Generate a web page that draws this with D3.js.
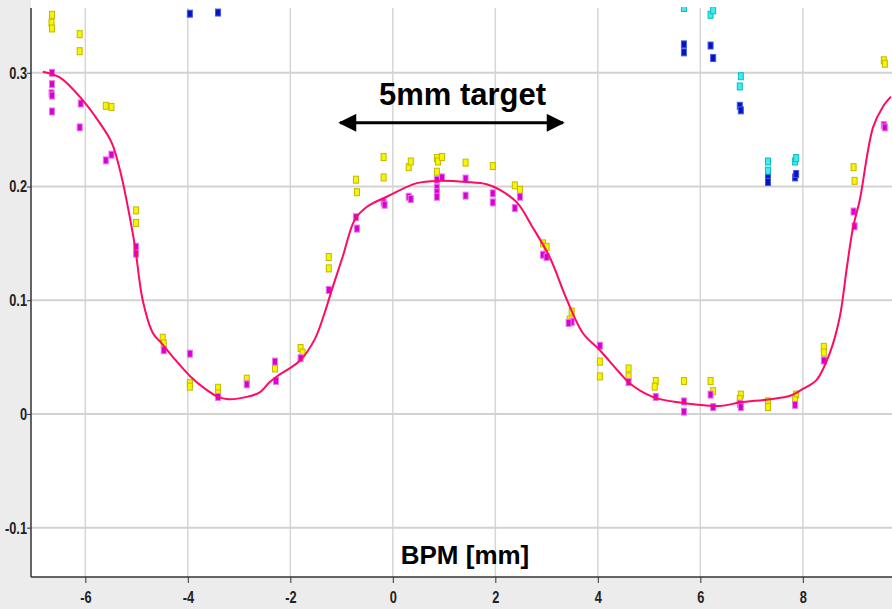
<!DOCTYPE html>
<html>
<head>
<meta charset="utf-8">
<script src="https://cdn.jsdelivr.net/npm/d3@7"></script>
<style>
  html, body { margin: 0; padding: 0; background: #ececec; }
  svg { display: block; }
</style>
</head>
<body>
<svg id="chart" width="892" height="609"></svg>
<script>
// data: [BPM mm, value]
const yellowPts = [
  [-6.65, 0.351], [-6.66, 0.344], [-6.65, 0.339],
  [-6.11, 0.334], [-6.11, 0.319],
  [-5.60, 0.271], [-5.49, 0.270],
  [-5.01, 0.179], [-5.01, 0.168],
  [-4.49, 0.067], [-4.47, 0.062],
  [-3.96, 0.027], [-3.96, 0.024],
  [-3.41, 0.023], [-3.41, 0.018],
  [-2.85, 0.031],
  [-2.30, 0.040],
  [-1.80, 0.058], [-1.76, 0.054],
  [-1.25, 0.138], [-1.25, 0.128],
  [-0.72, 0.206], [-0.70, 0.195],
  [-0.18, 0.226], [-0.18, 0.208],
  [0.31, 0.217], [0.35, 0.222],
  [0.86, 0.225], [0.88, 0.222], [0.96, 0.226], [0.86, 0.213],
  [1.42, 0.221],
  [1.95, 0.218],
  [2.38, 0.201], [2.48, 0.197],
  [2.93, 0.150], [3.00, 0.147],
  [3.49, 0.090], [3.45, 0.083],
  [4.04, 0.046], [4.04, 0.033],
  [4.60, 0.040], [4.60, 0.033],
  [5.13, 0.029], [5.11, 0.024],
  [5.68, 0.029],
  [6.20, 0.029], [6.25, 0.020],
  [6.79, 0.017], [6.77, 0.013],
  [7.32, 0.011], [7.32, 0.006],
  [7.87, 0.017], [7.85, 0.012],
  [8.41, 0.059], [8.41, 0.054],
  [8.99, 0.217], [9.01, 0.205],
  [9.58, 0.311], [9.60, 0.308]
];

const magentaPts = [
  [-6.65, 0.300], [-6.65, 0.290], [-6.66, 0.282], [-6.65, 0.280], [-6.65, 0.266],
  [-6.09, 0.273], [-6.11, 0.252],
  [-5.60, 0.223], [-5.49, 0.228],
  [-5.01, 0.147], [-5.01, 0.141],
  [-4.47, 0.056],
  [-3.96, 0.053],
  [-3.41, 0.015],
  [-2.85, 0.026],
  [-2.30, 0.046], [-2.28, 0.029],
  [-1.80, 0.049],
  [-1.25, 0.109],
  [-0.72, 0.173], [-0.70, 0.163],
  [-0.18, 0.186], [-0.16, 0.184],
  [0.31, 0.191], [0.35, 0.189],
  [0.86, 0.206], [0.96, 0.208], [0.86, 0.199], [0.86, 0.195], [0.86, 0.191],
  [1.42, 0.207], [1.42, 0.192],
  [1.95, 0.194], [1.95, 0.186],
  [2.38, 0.181], [2.48, 0.191],
  [2.93, 0.140], [3.00, 0.138],
  [3.49, 0.081], [3.43, 0.080],
  [4.04, 0.060],
  [4.60, 0.028],
  [5.13, 0.015],
  [5.68, 0.011], [5.68, 0.002],
  [6.20, 0.017], [6.25, 0.006],
  [6.77, 0.009], [6.79, 0.006],
  [7.85, 0.008],
  [8.41, 0.047],
  [8.99, 0.178], [9.01, 0.165],
  [9.58, 0.254], [9.60, 0.252]
];

const bluePts = [
  [-3.96, 0.352], [-3.41, 0.353],
  [5.68, 0.325], [5.68, 0.318],
  [6.20, 0.324], [6.25, 0.313],
  [6.77, 0.271], [6.79, 0.267],
  [7.32, 0.208], [7.32, 0.204],
  [7.85, 0.208], [7.87, 0.211]
];

const cyanPts = [
  [5.68, 0.357],
  [6.20, 0.351], [6.25, 0.355],
  [6.79, 0.297], [6.77, 0.288],
  [7.32, 0.222], [7.32, 0.214],
  [7.85, 0.222], [7.87, 0.225]
];

// smooth fit curve
const fitCurve = [
  [-6.83, 0.301], [-6.50, 0.296], [-6.11, 0.279], [-5.72, 0.256], [-5.48, 0.238],
  [-5.29, 0.208], [-5.17, 0.182], [-5.03, 0.147], [-4.88, 0.100], [-4.68, 0.071],
  [-4.51, 0.062], [-4.29, 0.050], [-3.95, 0.033], [-3.66, 0.022], [-3.41, 0.015],
  [-3.22, 0.013], [-2.85, 0.015], [-2.60, 0.019], [-2.40, 0.028], [-2.26, 0.033],
  [-1.81, 0.047], [-1.52, 0.066], [-1.33, 0.089], [-1.17, 0.112], [-0.98, 0.138],
  [-0.74, 0.171], [-0.51, 0.182], [-0.12, 0.191], [0.47, 0.203], [0.92, 0.205],
  [1.44, 0.204], [1.83, 0.202], [2.09, 0.197], [2.42, 0.186], [2.73, 0.164],
  [3.06, 0.138], [3.40, 0.100], [3.71, 0.071], [4.04, 0.056], [4.43, 0.036],
  [4.62, 0.027], [5.07, 0.015], [5.60, 0.010], [6.38, 0.007], [6.77, 0.010],
  [7.36, 0.013], [7.75, 0.016], [8.00, 0.022], [8.27, 0.030], [8.53, 0.054],
  [8.72, 0.085], [8.86, 0.129], [8.98, 0.164], [9.11, 0.188], [9.37, 0.252],
  [9.56, 0.270], [9.72, 0.279]
];

const xTicks = [-6, -4, -2, 0, 2, 4, 6, 8];
const yTicks = [-0.1, 0, 0.1, 0.2, 0.3];

const svg = d3.select("#chart");
const plotLeft = 31, plotRight = 892, plotTop = 8, plotBottom = 577;

const x = d3.scaleLinear().domain([-7.06, 9.74]).range([plotLeft, plotRight]);
const y = d3.scaleLinear().domain([-0.1434, 0.357]).range([plotBottom, plotTop]);

// background
svg.append("rect").attr("x", 0).attr("y", 0).attr("width", 892).attr("height", 609).attr("fill", "#ececec");
svg.append("rect").attr("x", plotLeft).attr("y", 0)
  .attr("width", plotRight - plotLeft).attr("height", plotBottom).attr("fill", "#fff");

const defs = svg.append("defs");
defs.append("clipPath").attr("id", "plotclip")
  .append("rect").attr("x", plotLeft).attr("y", plotTop - 1)
  .attr("width", plotRight - plotLeft).attr("height", plotBottom - plotTop + 1);

// grid
svg.append("g").selectAll("line").data(xTicks).join("line")
  .attr("x1", d => x(d)).attr("x2", d => x(d))
  .attr("y1", plotTop).attr("y2", plotBottom)
  .attr("stroke", "#d6d6d6").attr("stroke-width", 1.5);
svg.append("g").selectAll("line").data(yTicks).join("line")
  .attr("x1", plotLeft).attr("x2", plotRight)
  .attr("y1", d => y(d)).attr("y2", d => y(d))
  .attr("stroke", "#d2d2d2").attr("stroke-width", 2);

// axes -- plain hyphen minus, narrow glyphs like the original
const fmtTick = d => (d === 0 ? "0" : String(+d.toFixed(1))).replace("\u2212", "-");
const squeeze = 0.8;
const xAxis = svg.append("g")
  .attr("transform", "translate(0," + plotBottom + ")")
  .call(d3.axisBottom(x).tickValues(xTicks).tickSize(6).tickPadding(7).tickFormat(fmtTick));
const yAxis = svg.append("g")
  .attr("transform", "translate(" + plotLeft + ",0)")
  .call(d3.axisLeft(y).tickValues(yTicks).tickSize(4).tickPadding(3).tickFormat(fmtTick));
[xAxis, yAxis].forEach(a => {
  a.select(".domain").attr("stroke", "#333").attr("stroke-width", 1.5);
  a.selectAll(".tick line").attr("stroke", "#333");
  a.selectAll(".tick text")
    .style("font-family", "'Liberation Sans', Arial, sans-serif")
    .style("font-size", "16px")
    .style("font-weight", "bold")
    .attr("fill", "#222");
});
xAxis.selectAll(".tick text").attr("transform", "scale(" + squeeze + ",1.05)");
yAxis.selectAll(".tick text")
  .attr("x", -4 / squeeze)
  .attr("transform", "scale(" + squeeze + ",1.05)");
// frame lines span the plot area only
yAxis.select(".domain").attr("d", "M0," + plotTop + "V" + plotBottom);
xAxis.select(".domain").attr("d", "M" + plotLeft + ",0H" + plotRight);

// points
const plot = svg.append("g").attr("clip-path", "url(#plotclip)");
function drawPts(pts, fill, stroke) {
  plot.append("g").selectAll("rect").data(pts).join("rect")
    .attr("x", d => x(d[0]) - 2.5)
    .attr("y", d => y(d[1]) - 3.5)
    .attr("width", 5)
    .attr("height", 7)
    .attr("fill", fill)
    .attr("stroke", stroke)
    .attr("stroke-width", 1);
}
drawPts(yellowPts, "#f6f600", "#c2b800");
drawPts(magentaPts, "#d600d6", "#e878e8");
drawPts(bluePts, "#0014cc", "#4a58dc");
drawPts(cyanPts, "#3eeeee", "#10b8c0");

// fit line
plot.append("path")
  .datum(fitCurve)
  .attr("fill", "none")
  .attr("stroke", "#ff0a64")
  .attr("stroke-width", 2)
  .attr("d", d3.line()
    .x(d => x(d[0]))
    .y(d => y(d[1]))
    .curve(d3.curveCatmullRom.alpha(0.5)));

// annotation arrow + label
defs.append("marker").attr("id", "head")
  .attr("viewBox", "0 0 10 10").attr("refX", 9).attr("refY", 5)
  .attr("markerWidth", 7).attr("markerHeight", 6)
  .attr("orient", "auto-start-reverse")
  .append("path").attr("d", "M0,0L10,5L0,10z").attr("fill", "#000");
svg.append("line")
  .attr("x1", x(-1.03)).attr("x2", x(3.32))
  .attr("y1", y(0.256)).attr("y2", y(0.256))
  .attr("stroke", "#000").attr("stroke-width", 3)
  .attr("marker-start", "url(#head)").attr("marker-end", "url(#head)");
svg.append("text")
  .attr("x", x(1.36)).attr("y", y(0.272))
  .attr("text-anchor", "middle")
  .style("font-family", "'Liberation Sans', Arial, sans-serif")
  .style("font-weight", "bold")
  .style("font-size", "31px")
  .text("5mm target");

// x axis title
svg.append("text")
  .attr("x", 465).attr("y", 564)
  .attr("text-anchor", "middle")
  .style("font-family", "'Liberation Sans', Arial, sans-serif")
  .style("font-weight", "bold")
  .style("font-size", "26px")
  .text("BPM [mm]");
</script>
</body>
</html>
